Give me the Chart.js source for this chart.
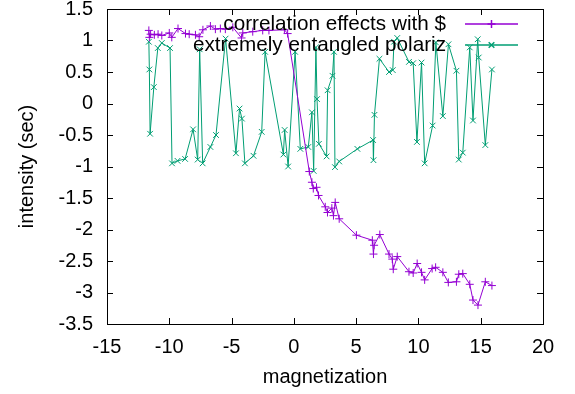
<!DOCTYPE html>
<html>
<head>
<meta charset="utf-8">
<script src="https://cdn.jsdelivr.net/npm/chart.js@4/dist/chart.umd.min.js"></script>
<style>
html,body{margin:0;padding:0;background:#fff;}
#wrap{width:575px;height:394px;}
</style>
</head>
<body>
<div id="wrap"><canvas id="c" width="575" height="394"></canvas></div>
<script>
const seriesLabels = ["correlation effects with $", "extremely entangled polariz"];
const xTitle = "magnetization";
const yTitle = "intensity (sec)";

const purpleX = [-11.64,-11.6,-11.5,-11.2,-10.9,-10.6,-10.0,-9.8,-9.3,-8.7,-8.4,-7.9,-7.6,-7.3,-6.7,-6.3,-5.9,-5.5,-4.9,-4.2,-4.1,-3.3,-2.5,-2.0,-0.76,-0.5,1.24,1.45,1.56,1.82,1.98,2.52,2.7,3.05,3.18,3.32,3.64,5.02,6.3,6.39,6.44,6.9,7.64,7.9,7.98,8.3,9.24,9.58,9.9,10.25,10.5,11.1,11.38,11.96,12.4,13.05,13.24,13.56,14.12,14.38,14.78,15.37,15.9];
const purpleY = [1.16,1.05,1.1,1.09,1.1,1.08,1.12,1.05,1.19,1.11,1.1,1.09,1.06,1.17,1.23,1.18,1.19,1.18,1.21,1.04,1.12,1.14,1.16,1.16,1.17,1.11,-1.08,-1.25,-1.35,-1.33,-1.46,-1.64,-1.73,-1.66,-1.78,-1.57,-1.83,-2.09,-2.17,-2.39,-2.25,-2.08,-2.39,-2.47,-2.63,-2.43,-2.67,-2.69,-2.54,-2.68,-2.8,-2.62,-2.6,-2.68,-2.84,-2.83,-2.71,-2.7,-2.87,-3.12,-3.2,-2.83,-2.89];

const greenX = [-11.64,-11.6,-11.54,-11.24,-10.92,-10.6,-9.94,-9.78,-9.34,-8.73,-8.09,-7.72,-7.56,-7.32,-6.7,-6.25,-5.48,-4.65,-4.36,-4.17,-3.93,-3.24,-2.58,-2.31,-0.84,-0.74,-0.46,0.1,0.52,1.16,1.45,1.59,1.77,1.86,2.01,2.63,2.71,3.1,3.22,3.3,3.64,5.1,6.36,6.39,6.47,6.87,7.64,7.94,8.04,8.3,9.24,9.58,9.88,10.25,10.5,11.14,11.4,11.96,12.41,13.05,13.24,13.56,14.12,14.38,14.76,14.84,15.37,15.9];
const greenY = [0.98,0.54,-0.48,0.26,0.88,0.96,0.88,-0.95,-0.91,-0.88,-0.41,-0.89,0.86,-0.95,-0.69,-0.5,1.03,-0.79,-0.08,-0.24,-0.95,-0.83,-0.45,0.82,-0.81,-0.42,-1.0,0.82,-0.72,-0.69,-0.14,-1.07,0.89,0.07,-0.64,-0.84,0.21,0.44,0.82,-1.01,-0.92,-0.72,-0.58,-0.9,-0.18,0.71,0.5,0.53,0.98,1.04,0.66,0.64,-0.61,0.65,-0.95,-0.35,0.97,-0.2,0.94,0.52,-0.89,-0.78,0.89,-0.27,1.02,0.73,-0.66,0.54];

const xTicks = [-15,-10,-5,0,5,10,15,20];
const yTicks = [-3.5,-3,-2.5,-2,-1.5,-1,-0.5,0,0.5,1,1.5];

const FONT = "'Liberation Sans', Arial, sans-serif";
const PURPLE = "#9400d3";
const GREEN = "#009e73";

function pts(xs, ys){ return xs.map((x,i)=>({x:x, y:ys[i]})); }

const frame = {
  id: 'frame',
  afterDatasetsDraw(chart){
    const ctx = chart.ctx, a = chart.chartArea;
    const xs = chart.scales.x, ys = chart.scales.y;
    ctx.save();
    ctx.strokeStyle = '#000';
    ctx.lineWidth = 1;
    const L = 6;
    ctx.beginPath();
    xTicks.forEach(v=>{
      const px = Math.round(xs.getPixelForValue(v)) + 0.5;
      ctx.moveTo(px, a.bottom); ctx.lineTo(px, a.bottom - L);
      ctx.moveTo(px, a.top); ctx.lineTo(px, a.top + L);
    });
    yTicks.forEach(v=>{
      const py = Math.round(ys.getPixelForValue(v)) + 0.5;
      ctx.moveTo(a.left, py); ctx.lineTo(a.left + L, py);
      ctx.moveTo(a.right, py); ctx.lineTo(a.right - L, py);
    });
    ctx.stroke();
    ctx.strokeRect(Math.round(a.left)+0.5, Math.round(a.top)+0.5, Math.round(a.right-a.left), Math.round(a.bottom-a.top));
    ctx.restore();
  },
  afterDraw(chart){
    const ctx = chart.ctx;
    ctx.save();
    ctx.font = "20.7px " + FONT;
    ctx.textAlign = 'right';
    ctx.textBaseline = 'middle';
    chart.data.datasets.forEach((ds, i)=>{
      const y = 24 + i*21;
      ctx.fillStyle = '#000';
      ctx.fillText(ds.label, 446, y);
      ctx.strokeStyle = ds.borderColor;
      ctx.lineWidth = 1.5;
      ctx.beginPath(); ctx.moveTo(465, y); ctx.lineTo(518, y); ctx.stroke();
      Chart.helpers.drawPoint(ctx, {pointStyle: ds.pointStyle, radius: 4, rotation: 0, borderWidth: 1}, 491.5, y);
    });
    ctx.restore();
  }
};

function fmt(v){ return String(v); }

new Chart(document.getElementById('c'), {
  type: 'scatter',
  data: {
    datasets: [
      {label: seriesLabels[0], data: pts(purpleX, purpleY), showLine: true, borderColor: PURPLE, backgroundColor: PURPLE, borderWidth: 1, pointStyle: 'cross', pointRadius: 4, pointBorderWidth: 1, pointBorderColor: PURPLE},
      {label: seriesLabels[1], data: pts(greenX, greenY), showLine: true, borderColor: GREEN, backgroundColor: GREEN, borderWidth: 1, pointStyle: 'crossRot', pointRadius: 4, pointBorderWidth: 1, pointBorderColor: GREEN}
    ]
  },
  options: {
    responsive: false,
    animation: false,
    layout: {padding: {top: 9, right: 32, left: 0, bottom: 0}},
    plugins: {legend: {display: false}, tooltip: {enabled: false}},
    scales: {
      x: {
        type: 'linear', min: -15, max: 20,
        afterBuildTicks(s){ s.ticks = xTicks.map(v=>({value: v})); },
        afterFit(s){ s.height = 70; s.paddingLeft = 0; s.paddingRight = 0; },
        grid: {display: false, drawTicks: false},
        border: {display: false},
        ticks: {color: '#000', font: {family: FONT, size: 20}, padding: 11, maxRotation: 0, autoSkip: false, callback: fmt},
        title: {display: true, text: xTitle, color: '#000', font: {family: FONT, size: 20}, padding: {top: 0, bottom: 5}}
      },
      y: {
        type: 'linear', min: -3.5, max: 1.5,
        afterBuildTicks(s){ s.ticks = yTicks.map(v=>({value: v})); },
        afterFit(s){ s.width = 107; s.paddingTop = 0; s.paddingBottom = 0; },
        grid: {display: false, drawTicks: false},
        border: {display: false},
        ticks: {color: '#000', font: {family: FONT, size: 20}, padding: 14, autoSkip: false, callback: fmt},
        title: {display: true, text: yTitle, color: '#000', font: {family: FONT, size: 20}, padding: {top: 15, bottom: 0}}
      }
    }
  },
  plugins: [frame]
});
</script>
</body>
</html>
